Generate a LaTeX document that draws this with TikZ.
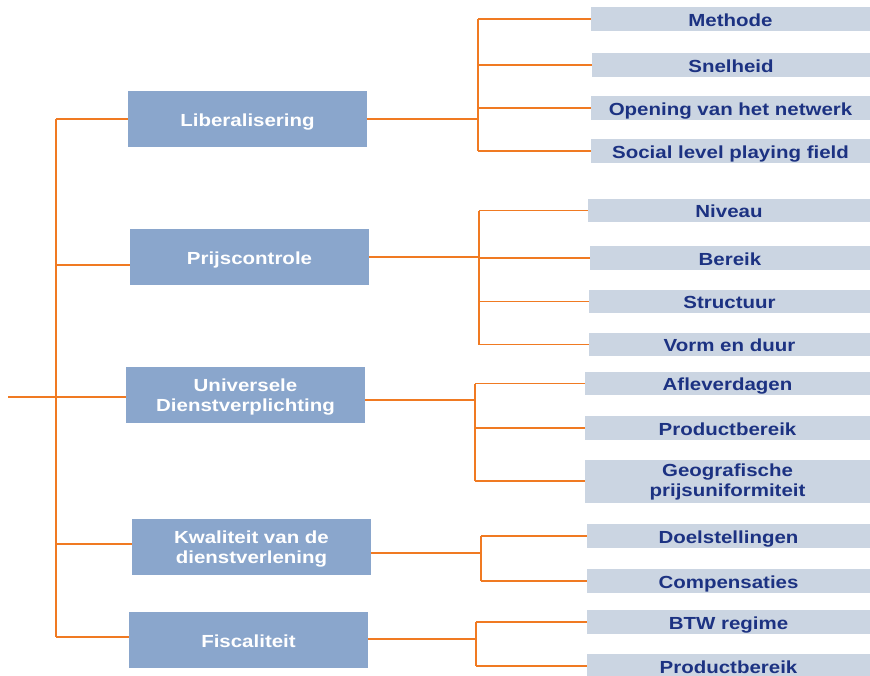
\documentclass[tikz,border=0pt]{standalone}
\usepackage{fontspec}
\setmainfont{Liberation Sans}[FakeStretch=1.17]
\definecolor{mainblue}{RGB}{138,166,204}
\definecolor{subblue}{RGB}{203,213,226}
\definecolor{navy}{RGB}{28,50,130}
\definecolor{lineorange}{RGB}{240,122,34}
\begin{document}
\begin{tikzpicture}[x=1pt,y=-1pt,
  boxfont/.style={font=\fontsize{17.5}{20}\selectfont\bfseries},
  mainbox/.style={boxfont,fill=mainblue,text=white,minimum width=239pt,minimum height=56pt,inner sep=0pt,align=center,text height=14pt,text depth=0pt},
  subbox/.style={boxfont,fill=subblue,text=navy,minimum height=24pt,inner sep=0pt,align=center,text height=14pt,text depth=0pt},
  twoline/.style={text height=#1,text depth=0pt},
  conn/.style={draw=lineorange,line width=1.3pt}]
\useasboundingbox (0,0) rectangle (870,675);
% main boxes
\node[mainbox] (lib) at (247.5,119) {Liberalisering};
\node[mainbox] (prijs) at (249.5,257) {Prijscontrole};
\node[mainbox,twoline=33.4pt] (univ) at (245.5,395) {Universele\\Dienstverplichting};
\node[mainbox,twoline=32.6pt] (kwal) at (251.5,547) {Kwaliteit van de\\dienstverlening};
\node[mainbox] (fisc) at (248.5,640) {Fiscaliteit};
% sub boxes
\node[subbox,minimum width=279pt] (methode) at (730.5,19) {Methode};
\node[subbox,minimum width=278pt] (snel) at (731,65) {Snelheid};
\node[subbox,minimum width=279pt] (opening) at (730.5,108) {Opening van het netwerk};
\node[subbox,minimum width=279pt] (social) at (730.5,151) {Social level playing field};
\node[subbox,minimum width=282pt,minimum height=23pt] (niveau) at (729,210.5) {Niveau};
\node[subbox,minimum width=280pt] (bereik) at (730,258) {Bereik};
\node[subbox,minimum width=281pt,minimum height=23pt] (struct) at (729.5,301.5) {Structuur};
\node[subbox,minimum width=281pt,minimum height=23pt] (vorm) at (729.5,344.5) {Vorm en duur};
\node[subbox,minimum width=285pt,minimum height=23pt] (aflever) at (727.5,383.5) {Afleverdagen};
\node[subbox,minimum width=285pt] (prodA) at (727.5,428) {Productbereik};
\node[subbox,twoline=31.4pt,minimum width=285pt,minimum height=43pt] (geo) at (727.5,481) {Geografische\\prijsuniformiteit};
\node[subbox,minimum width=283pt] (doel) at (728.5,536) {Doelstellingen};
\node[subbox,minimum width=283pt] (comp) at (728.5,581) {Compensaties};
\node[subbox,minimum width=283pt] (btw) at (728.5,622) {BTW regime};
\node[subbox,minimum width=283pt] (prodB) at (728.5,666) {Productbereik};
% left trunk
\coordinate (root) at (8,397);
\coordinate (t1) at (56,119);
\coordinate (t2) at (56,265);
\coordinate (t3) at (56,397);
\coordinate (t4) at (56,544);
\coordinate (t5) at (56,637);
\draw[conn] (t1) -- (t5);
\draw[conn] (root) -- (univ.west |- t3);
\draw[conn] (t1) -- (lib.west |- t1);
\draw[conn] (t2) -- (prijs.west |- t2);
\draw[conn] (t4) -- (kwal.west |- t4);
\draw[conn] (t5) -- (fisc.west |- t5);
% branch coordinates
\coordinate (b1) at (478,119);
\coordinate (b2) at (479,257);
\coordinate (b3) at (475,400);
\coordinate (b4) at (481,553);
\coordinate (b5) at (476,639);
% group 1
\draw[conn] (lib.east) -- (b1);
\draw[conn] (b1 |- methode.west) -- (b1 |- social.west);
\foreach \n in {methode,snel,opening,social} \draw[conn] (b1 |- \n.west) -- (\n.west);
% group 2
\draw[conn] (prijs.east) -- (b2);
\draw[conn] (b2 |- niveau.west) -- (b2 |- vorm.west);
\foreach \n in {niveau,bereik,struct,vorm} \draw[conn] (b2 |- \n.west) -- (\n.west);
% group 3
\draw[conn] (univ.east |- b3) -- (b3);
\draw[conn] (b3 |- aflever.west) -- (b3 |- geo.west);
\foreach \n in {aflever,prodA,geo} \draw[conn] (b3 |- \n.west) -- (\n.west);
% group 4
\draw[conn] (kwal.east |- b4) -- (b4);
\draw[conn] (b4 |- doel.west) -- (b4 |- comp.west);
\foreach \n in {doel,comp} \draw[conn] (b4 |- \n.west) -- (\n.west);
% group 5
\draw[conn] (fisc.east |- b5) -- (b5);
\draw[conn] (b5 |- btw.west) -- (b5 |- prodB.west);
\foreach \n in {btw,prodB} \draw[conn] (b5 |- \n.west) -- (\n.west);
\end{tikzpicture}
\end{document}
